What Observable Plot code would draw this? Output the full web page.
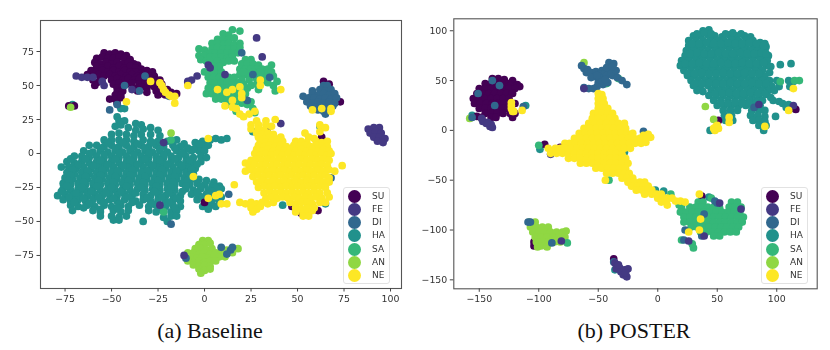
<!DOCTYPE html>
<html><head><meta charset="utf-8">
<script src="https://cdn.jsdelivr.net/npm/d3@7"></script>
<script src="https://cdn.jsdelivr.net/npm/@observablehq/plot@0.6"></script>
<style>
html,body{margin:0;padding:0;background:#fff;width:830px;height:350px;overflow:hidden}
#stage{position:relative;width:830px;height:350px}
.panel{position:absolute;top:0;filter:blur(.45px)}
.cap{position:absolute;top:318px;font:22px "Liberation Serif",serif;color:#111;text-align:center;white-space:nowrap;transform:translateX(-50%)}
.leg{position:absolute;top:187px;width:45px;height:95px;border:1px solid #e2e2e2;border-radius:3px;background:#fff;filter:blur(.35px);font:9px "DejaVu Sans",sans-serif;color:#333}
.leg div{position:absolute;left:4px;height:13px;line-height:13px;white-space:nowrap}
.leg i{position:absolute;left:0;top:0;width:13px;height:13px;border-radius:50%}
.leg span{position:absolute;left:24px;top:0}
</style></head><body><div id="stage"></div>
<script>
const labels = ["SU","FE","DI","HA","SA","AN","NE"];
const colors = ["#440154","#443983","#31688e","#21918c","#35b779","#90d743","#fde725"];
const ticksAX = [-75,-50,-25,0,25,50,75,100];
const ticksAY = [-75,-50,-25,0,25,50,75];
const ticksBX = [-150,-100,-50,0,50,100];
const ticksBY = [-150,-100,-50,0,50,100];

// Panel (a) Baseline
const aHA = [[-47,27],[-46,24],[-43,24],[-48,20],[-45,21],[-37,22],[-34,21],[-41,19],[-37,17],[-33,18],[-29,19],[-25,17],
[-50,14],[-46,15],[-42,14],[-38,13],[-34,14],[-29,14],[-24,13],[-54,10],[-50,10],[-46,10],[-42,10],[-38,9],[-33,10],[-29,9],[-25,9],[-20,9],[-15,10],[-11,7],[-5,8],[-1,9],[3,10],[6,11],[9,10],[12,11],
[-62,6],[-58,6],[-54,5],[-50,6],[-46,5],[-42,6],[-38,5],[-34,6],[-30,5],[-26,6],[-22,5],[-17,6],[-13,5],[-9,4],[-4,5],[-1,6],[2,6],
[-65,2],[-60,1],[-56,2],[-52,1],[-48,2],[-44,1],[-40,2],[-36,1],[-32,2],[-28,1],[-24,2],[-20,1],[-15,2],[-11,1],[-7,2],[-3,2],[0,2],
[-70,-2],[-66,-2],[-62,-3],[-58,-2],[-54,-3],[-50,-2],[-46,-3],[-42,-2],[-38,-3],[-34,-2],[-30,-3],[-26,-2],[-22,-3],[-18,-2],[-14,-3],[-10,-2],[-6,-3],[-2,-2],[1,-3],
[-74,-6],[-70,-7],[-66,-6],[-62,-7],[-58,-6],[-54,-7],[-50,-6],[-46,-7],[-42,-6],[-38,-7],[-34,-6],[-30,-7],[-26,-6],[-22,-7],[-18,-6],[-14,-7],[-10,-6],[-6,-7],[-2,-6],
[-77,-10],[-73,-10],[-69,-11],[-65,-10],[-61,-11],[-57,-10],[-53,-11],[-49,-10],[-45,-11],[-41,-10],[-37,-11],[-33,-10],[-29,-11],[-25,-10],[-21,-11],[-17,-10],[-13,-11],[-9,-10],[-5,-11],
[-74,-14],[-70,-15],[-66,-14],[-62,-15],[-58,-14],[-54,-15],[-50,-14],[-46,-15],[-42,-14],[-38,-15],[-34,-14],[-30,-15],[-26,-14],[-22,-15],[-18,-14],[-14,-15],[-10,-14],[-6,-15],
[-75,-18],[-71,-19],[-67,-18],[-63,-19],[-59,-18],[-55,-19],[-51,-18],[-47,-19],[-43,-18],[-39,-19],[-35,-18],[-31,-19],[-27,-18],[-23,-19],[-19,-18],[-15,-19],[-11,-18],[-7,-19],[-3,-19],[1,-20],[5,-21],
[-76,-22],[-72,-23],[-68,-22],[-64,-23],[-60,-22],[-56,-23],[-52,-22],[-48,-23],[-44,-22],[-40,-23],[-36,-22],[-32,-23],[-28,-22],[-24,-23],[-20,-22],[-16,-23],[-12,-22],[-8,-23],[-4,-22],[0,-23],[4,-24],[8,-24],
[-76,-26],[-72,-27],[-68,-26],[-64,-27],[-60,-26],[-56,-27],[-52,-26],[-48,-27],[-44,-26],[-40,-27],[-36,-26],[-32,-27],[-28,-26],[-24,-27],[-20,-26],[-16,-27],[-10,-26],[-6,-27],[-2,-26],[2,-27],[6,-27],[9,-26],
[-79,-31],[-75,-30],[-71,-31],[-67,-30],[-63,-31],[-59,-30],[-55,-31],[-51,-30],[-47,-31],[-43,-30],[-39,-31],[-33,-30],[-29,-31],[-25,-30],[-21,-31],[-17,-30],[-13,-31],[-7,-30],[-3,-31],[1,-30],[5,-31],[9,-32],
[-76,-34],[-72,-35],[-68,-34],[-64,-35],[-60,-34],[-56,-35],[-51,-34],[-47,-35],[-43,-34],[-37,-35],[-33,-34],[-29,-35],[-25,-34],[-21,-35],[-17,-34],[-13,-35],[-4,-34],[0,-35],[4,-35],[8,-35],
[-72,-38],[-68,-39],[-63,-38],[-59,-39],[-54,-38],[-50,-39],[-45,-38],[-41,-39],[-35,-38],[-30,-39],[-26,-38],[-21,-39],[-17,-38],[-13,-39],[-1,-39],[3,-38],[6,-39],
[-71,-42],[-60,-42],[-56,-43],[-49,-42],[-45,-43],[-41,-42],[-30,-42],[-26,-43],[-22,-42],[-18,-43],[-15,-42],
[-56,-46],[-50,-46],[-46,-47],[-42,-46],[-22,-47],[-18,-46],[-15,-46],[-49,-49],[-46,-49],[-33,-50],[-20,-50],[42,-38],[-43,33],[-45,33],[-71,36],[26,16],[62,20],[55,-43],[65,-37]];
const aHAFill = [[-52,8],[-44,8],[-36,7],[-28,8],[-3,7],[-56,4],[-48,4],[-40,3],[-32,4],[-24,3],[-16,4],[-6,3],[-62,0],[-54,-1],[-46,0],[-38,-1],[-30,0],[-22,-1],[-12,0],
[-72,-4],[-64,-4],[-56,-5],[-48,-4],[-40,-5],[-32,-4],[-24,-5],[-16,-4],[-8,-5],[-68,-8],[-60,-9],[-52,-8],[-44,-9],[-36,-8],[-28,-9],[-20,-8],[-12,-9],[-4,-8],
[-71,-12],[-63,-13],[-55,-12],[-47,-13],[-39,-12],[-31,-13],[-23,-12],[-15,-13],[-7,-12],[-72,-16],[-64,-17],[-56,-16],[-48,-17],[-40,-16],[-32,-17],[-24,-16],[-16,-17],[-8,-16],
[-73,-20],[-65,-21],[-57,-20],[-49,-21],[-41,-20],[-33,-21],[-25,-20],[-17,-21],[-9,-20],[-74,-24],[-66,-25],[-58,-24],[-50,-25],[-42,-24],[-34,-25],[-26,-24],[-18,-25],[-10,-24],[-2,-24],[6,-25],
[-77,-28],[-69,-29],[-61,-28],[-53,-29],[-45,-28],[-37,-29],[-27,-28],[-19,-29],[-12,-28],[-4,-29],[4,-28],[-73,-32],[-65,-33],[-57,-32],[-49,-33],[-41,-32],[-31,-33],[-23,-32],[-15,-33],[-1,-32],[7,-33],
[-70,-36],[-62,-37],[-54,-36],[-46,-37],[-39,-36],[-28,-37],[-19,-36],[-65,-40],[-56,-41],[-47,-40],[-24,-41],[-16,-40],[2,-41]];
const aSU = [[-54,74],[-51,73],[-48,74],[-45,73],[-42,72],[-58,70],[-55,71],[-52,70],[-49,70],[-46,71],[-43,70],[-40,69],
[-59,67],[-56,66],[-53,67],[-50,66],[-47,67],[-44,66],[-41,67],[-38,66],[-36,65],[-58,64],[-55,63],[-52,64],[-49,63],[-46,64],[-43,63],[-40,64],[-37,63],[-34,62],
[-61,61],[-58,60],[-55,61],[-52,60],[-49,61],[-46,60],[-43,61],[-40,60],[-37,60],[-34,59],[-31,61],[-28,60],
[-63,58],[-60,57],[-57,58],[-54,57],[-51,58],[-48,57],[-45,58],[-42,57],[-39,58],[-36,57],[-33,58],[-30,57],[-27,57],
[-60,54],[-56,54],[-50,54],[-47,55],[-44,54],[-41,55],[-38,54],[-35,55],[-32,54],[-29,55],[-26,54],[-24,54],
[-58,52],[-49,51],[-46,52],[-42,51],[-39,52],[-35,51],[-32,52],[-29,51],[-26,52],[-23,51],
[-47,48],[-44,49],[-38,48],[-34,49],[-31,48],[-27,49],[-23,48],[-20,47],[-47,45],[-44,46],[-36,46],[-31,45],[-26,46],[-22,44],[-18,45],
[-48,43],[-45,43],[-25,43],[-21,43],[-15,44],[-51,40],[-48,40],[-45,41],[-47,37],[-70,35],[-73,35],[63,12],[-9,52],[47,-39],[52,-44],[61,-42],[-59,50],[64,53],[67,51],[73,38],[0,-36]];
const aFE = [[-69,57],[-66,56],[-63,56],[-60,56],[-55,53],[-54,50],[-39,47],[-9,53],[-7,54],[-4,57],[28,85],[31,71],[2,65],[3,63],[11,58],[34,19],[41,22],[-22,8],[-24,-38],[-11,-75],
[88,18],[91,19],[94,19],[89,15],[92,16],[95,15],[91,12],[94,12],[97,11],[93,9],[96,8]];
const aDI = [[-51,32],[-47,36],[-35,46],[-43,50],[-32,57],[-19,42],[20,74],[26,58],[35,56],[23,39],[-18,-52],[-10,-77],[68,-18],[13,-30],[9,-69],[14,-71],[15,-69],[12,-74],
[64,50],[66,50],[58,46],[62,47],[65,46],[68,47],[58,44],[61,43],[64,44],[67,43],[70,44],[53,42],[56,41],[59,41],[62,40],[65,41],[68,40],[71,41],[55,38],[58,37],[61,38],[64,37],[67,38],[70,37],[57,35],[60,34],[63,35],[66,34],[69,35],[61,32],[64,31],[65,29]];
const aSA = [[-3,77],[0,76],[-3,72],[0,72],[-2,69],[1,68],[4,68],[15,91],[19,90],[10,88],[13,87],[7,84],[10,84],[13,84],[16,85],[4,81],[7,81],[10,80],[13,81],[16,80],[19,81],[4,77],[7,78],[10,77],[13,77],[16,77],[19,78],[3,74],[6,74],[9,74],[12,74],[15,74],[18,74],[3,71],[6,71],[9,71],[12,70],[15,71],[7,68],[10,67],[13,68],[16,68],
[22,69],[25,69],[20,66],[23,66],[26,66],[29,65],[36,65],[19,62],[22,62],[25,62],[28,62],[31,62],[34,62],[19,58],[22,58],[24,58],[28,58],[31,58],[34,59],[37,57],[20,54],[24,54],[32,54],[0,60],[3,60],[6,60],[9,60],[2,56],[5,56],[8,56],[10,55],[13,56],[16,56],[3,52],[6,52],[9,52],[12,52],[15,52],[18,52],[4,48],[7,48],[10,48],[13,48],[16,48],[19,48],[23,48],[1,44],[4,44],[7,44],[10,44],[13,44],[16,44],[22,44],[6,40],[9,40],[12,40],[15,40],[14,36],[16,36],[26,33],[27,30],[37,50],[38,46],[-18,10],[-22,-43],
[21,60],[26,60],[30,60],[33,56],[28,55],[25,50],[28,51],[34,52],[21,51],[19,45],[18,40],[20,37],[8,64],[5,64],[2,48],[12,36],[17,31],[23,36],[25,38],[29,47],[36,60],[39,53]];
const aAN = [[-1,-64],[2,-64],[-3,-67],[0,-67],[3,-66],[-5,-70],[-2,-70],[1,-71],[4,-70],[9,-70],[12,-71],[15,-70],[18,-70],[-9,-73],[-6,-73],[-3,-74],[0,-73],[3,-74],[6,-73],[9,-74],[12,-73],[15,-73],[-10,-76],[-7,-76],[-4,-77],[-1,-76],[2,-77],[5,-76],[8,-76],[11,-76],[-9,-79],[-6,-80],[-3,-79],[0,-80],[3,-79],[6,-79],[-6,-82],[-3,-83],[0,-82],[3,-83],[-3,-85],[0,-86],[3,-85],[-2,-88],[-72,34],[-18,15]];
const aNE = [[28,24],[33,24],[38,25],[25,21],[29,21],[33,21],[36,20],[25,18],[29,18],[32,17],[28,15],[31,14],[34,15],[37,14],[54,15],[62,21],[29,12],[32,11],[35,12],[38,11],[41,12],[56,12],[59,11],[62,16],[30,9],[33,8],[36,9],[39,8],[42,9],[49,9],[52,9],[55,8],[60,9],[63,8],[66,9],
[29,6],[32,5],[35,6],[38,5],[41,6],[44,5],[48,6],[51,5],[54,6],[57,5],[60,6],[63,5],[66,5],[28,3],[31,2],[34,3],[37,2],[40,3],[43,2],[46,3],[49,2],[52,3],[55,2],[58,3],[61,2],[64,3],[67,2],[27,0],[30,-1],[33,0],[36,-1],[39,0],[42,-1],[45,0],[48,-1],[51,0],[54,-1],[57,0],[60,-1],[63,0],[66,-1],[68,0],
[22,-7],[25,-5],[28,-4],[31,-5],[34,-4],[37,-5],[40,-4],[43,-5],[46,-4],[49,-5],[52,-4],[55,-5],[58,-4],[61,-5],[64,-4],[67,-5],[74,-9],[24,-9],[27,-8],[30,-9],[33,-8],[36,-9],[39,-8],[42,-9],[45,-8],[48,-9],[51,-8],[54,-9],[57,-8],[60,-9],[63,-8],[66,-9],
[22,-13],[25,-12],[28,-13],[31,-12],[34,-13],[37,-12],[40,-13],[43,-12],[46,-13],[49,-12],[52,-13],[55,-12],[58,-13],[61,-12],[64,-13],[67,-12],[70,-13],[26,-17],[29,-16],[32,-17],[35,-16],[38,-17],[41,-16],[44,-17],[47,-16],[50,-17],[53,-16],[56,-17],[59,-16],[62,-17],[65,-16],[67,-18],
[28,-21],[31,-20],[34,-21],[37,-20],[40,-21],[43,-20],[46,-21],[49,-20],[52,-21],[55,-20],[58,-21],[61,-20],[64,-21],[67,-21],[29,-25],[32,-24],[35,-25],[38,-24],[41,-25],[44,-24],[47,-25],[50,-24],[53,-25],[56,-24],[59,-25],[62,-24],[65,-25],[32,-29],[35,-28],[38,-29],[41,-28],[44,-29],[47,-28],[50,-29],[53,-28],[56,-29],[59,-28],[62,-29],[66,-29],[33,-33],[36,-32],[39,-33],[42,-32],[45,-33],[48,-32],[51,-33],[54,-32],[57,-33],[60,-32],[63,-33],[67,-32],
[19,-36],[22,-37],[25,-36],[28,-37],[31,-36],[34,-37],[37,-36],[46,-36],[49,-37],[52,-36],[55,-36],[58,-37],[62,-36],[65,-36],[25,-40],[28,-41],[30,-39],[49,-40],[52,-41],[55,-40],[59,-40],[26,-43],[49,-43],[53,-44],[56,-43],[58,-42],[53,-46],[56,-46],
[-29,53],[-24,52],[-23,50],[-22,47],[-21,45],[-19,43],[-18,42],[-16,42],[-42,38],[-16,37],[-9,50],[7,47],[12,45],[15,47],[19,49],[20,44],[20,41],[15,39],[11,35],[15,34],[17,33],[19,29],[21,27],[24,29],[27,31],[30,54],[30,50],[41,47],[58,32],[63,33],[68,31],[68,33],[2,11],[-6,-17],[2,-33],[6,-31],[8,-30],[16,-23],[9,-37],[12,-37],[65,19]];
const layersA = [["HA",aHA],["HA",aHAFill],["SU",aSU],["SA",aSA],["AN",aAN],["DI",aDI],["FE",aFE],["NE",aNE]];

// Panel (b) POSTER
const bHA = [[38,100],[43,101],[30,95],[36,95],[42,96],[48,95],[54,94],[60,96],[66,95],[73,95],[78,94],[26,90],[32,90],[38,90],[44,91],[50,90],[56,90],[62,91],[68,90],[74,90],[80,90],[86,88],[90,87],
[26,85],[32,85],[38,85],[44,85],[50,85],[56,85],[62,85],[68,85],[74,85],[80,85],[86,84],[91,84],[24,80],[30,80],[36,80],[42,80],[48,80],[54,80],[60,80],[66,80],[72,80],[78,80],[84,80],[90,80],
[23,75],[29,75],[35,75],[41,75],[47,75],[53,75],[59,75],[65,75],[71,75],[77,75],[83,75],[89,75],[93,75],[20,70],[26,70],[32,70],[38,70],[44,70],[50,70],[56,70],[62,70],[68,70],[74,70],[80,70],[86,70],[92,70],
[19,65],[25,65],[31,65],[37,65],[43,65],[49,65],[55,65],[61,65],[67,65],[73,65],[79,65],[85,65],[91,65],[95,64],[103,66],[112,67],[22,60],[28,60],[34,60],[40,60],[46,60],[52,60],[58,60],[64,60],[70,60],[76,60],[82,60],[88,60],[94,58],
[25,55],[31,55],[37,55],[43,55],[49,55],[55,55],[61,55],[67,55],[73,55],[79,55],[85,55],[90,54],[28,50],[34,50],[40,50],[46,50],[52,50],[58,50],[64,50],[70,50],[76,50],[82,50],[88,50],[94,50],[100,50],[110,50],[114,49],
[30,45],[36,45],[42,45],[48,45],[54,45],[60,45],[66,45],[72,45],[78,45],[84,45],[90,45],[96,44],[102,44],[111,44],[33,40],[38,39],[45,40],[51,40],[57,40],[63,40],[69,40],[75,40],[81,40],[87,40],[93,40],[98,40],
[43,35],[49,35],[55,35],[61,35],[67,35],[73,35],[79,35],[85,35],[91,36],[95,33],[47,30],[53,30],[59,30],[65,30],[71,30],[77,30],[83,30],[88,30],[97,30],[102,29],[50,25],[56,25],[62,25],[68,25],[74,25],[80,25],[86,25],[105,27],[110,26],
[55,20],[61,20],[67,20],[79,20],[85,20],[90,20],[108,23],[112,22],[56,15],[62,15],[78,15],[84,15],[90,14],[99,14],[57,10],[63,10],[80,10],[85,10],[90,9],[85,5],[91,5],[89,0],[44,0],
[-156,15],[-111,25],[-99,-19],[-28,-22],[-2,-60],[5,-61],[43,-67],[-36,-140]];
const bHAFill = [[33,97],[39,98],[45,97],[57,97],[63,98],[70,97],[29,87],[35,87],[41,88],[47,87],[53,87],[59,88],[65,87],[71,87],[77,88],[83,87],[89,85],
[27,77],[33,78],[39,77],[45,77],[51,78],[57,77],[63,77],[69,78],[75,77],[81,77],[87,78],[91,77],[23,67],[29,67],[35,68],[41,67],[47,67],[53,68],[59,67],[65,67],[71,68],[77,67],[83,67],[89,68],
[25,57],[31,57],[37,58],[43,57],[49,57],[55,58],[61,57],[67,57],[73,58],[79,57],[85,57],[31,47],[37,47],[43,48],[49,47],[55,47],[61,48],[67,47],[73,47],[79,48],[85,47],[91,47],[48,37],[54,37],[60,38],[66,37],[72,37],[78,38],[84,37],[90,37],[53,27],[59,27],[65,28],[71,27],[77,27],[83,28]];
const bSU = [[-139,52],[-134,52],[-129,51],[-122,50],[-145,47],[-140,47],[-135,47],[-130,47],[-125,47],[-118,46],[-124,45],[-120,44],[-116,44],[-150,42],[-145,42],[-140,42],[-135,42],[-130,42],[-125,42],[-120,42],
[-152,37],[-147,37],[-142,37],[-137,37],[-132,37],[-127,37],[-122,37],[-155,32],[-150,32],[-145,32],[-140,32],[-135,32],[-130,32],[-125,32],[-154,27],[-149,27],[-144,27],[-139,27],[-134,27],[-129,27],[-125,27],[-120,27],
[-150,22],[-145,22],[-140,22],[-135,22],[-130,22],[-126,22],[-145,17],[-140,17],[-135,17],[-130,17],[-124,17],[-120,17],[-140,13],[-136,13],[-122,13],[-152,14],[-148,13],[-104,-112],[-104,-116],[-97,-115],[-95,-14],[-82,-17],[51,10],[116,21],[37,-66],[-37,-129]];
const bFE = [[-147,9],[-143,8],[-140,6],[-139,3],[-141,4],[-144,7],[-148,12],[-90,-24],[-62,42],[85,26],[114,25],[-81,-111],[26,-111],[39,-106],[70,-79],[52,-73],
[-36,-133],[-34,-136],[-32,-138],[-35,-139],[-31,-142],[-28,-140],[-29,-145],[-26,-147],[-25,-139],[-27,-143],[-33,-135]];
const bDI = [[-64,65],[-62,62],[-59,61],[-60,58],[-56,58],[-52,59],[-47,60],[-48,56],[-53,54],[-49,52],[-45,54],[-50,48],[-46,46],[-51,44],[-47,50],[-44,58],[-42,62],[-40,66],[-37,67],[-41,68],[-43,55],[-38,55],[-34,53],[-30,50],[-26,46],[-62,43],[-58,42],[-54,42],[-42,48],[-39,58],[-35,60],[-43,63],[-38,64],[-56,53],[-51,55],[-44,51],
[-139,50],[-133,45],[-151,37],[-137,25],[-113,24],[-156,13],[81,23],[-109,-92],[-107,-92],[-89,-113],[-12,-1],[23,-100],[22,-110],[37,-106],[39,-84],[48,-71],[50,-73],[-37,-132]];
const bSA = [[34,-72],[38,-72],[62,-72],[67,-72],[20,-77],[27,-77],[32,-77],[37,-77],[42,-77],[47,-77],[52,-78],[60,-77],[65,-77],[70,-77],[19,-82],[24,-82],[29,-82],[34,-82],[39,-82],[44,-82],[49,-82],[54,-82],[59,-82],[64,-82],[69,-82],
[22,-87],[27,-87],[32,-87],[37,-87],[42,-87],[47,-87],[52,-87],[57,-87],[62,-87],[67,-87],[72,-87],[22,-92],[27,-92],[32,-92],[37,-92],[42,-92],[47,-92],[52,-92],[57,-92],[62,-92],[67,-92],[71,-92],
[28,-97],[33,-97],[38,-97],[43,-97],[48,-97],[53,-97],[58,-97],[63,-97],[68,-97],[36,-102],[41,-102],[46,-102],[51,-102],[56,-102],[61,-102],[66,-102],[47,-106],[52,-106],[30,-118],[29,-114],[20,-110],
[-100,-15],[-33,52],[-43,47],[-76,-113],[-41,-50],[103,49],[119,50],[115,50],[45,-68],[11,-64],[18,-75]];
const bAN = [[-108,-92],[-103,-92],[-107,-97],[-102,-97],[-97,-97],[-92,-97],[-105,-102],[-100,-102],[-95,-102],[-90,-102],[-85,-102],[-80,-102],[-77,-101],[-103,-107],[-98,-107],[-93,-107],[-88,-107],[-83,-107],[-78,-107],[-102,-112],[-97,-112],[-92,-112],[-87,-112],[-82,-112],[-101,-117],[-98,-116],[-93,-117],[-158,12],[-62,68],[40,24],[47,11]];
const bNE = [[-50,37],[-47,36],[-50,32],[-46,32],[-50,27],[-45,27],[-50,22],[-46,22],[-42,22],[-54,17],[-50,17],[-47,17],[-42,17],[-38,17],[-55,12],[-50,12],[-45,12],[-40,12],[-36,12],[-58,7],[-53,7],[-48,7],[-43,7],[-38,7],[-33,7],[-28,7],
[-62,2],[-57,2],[-52,2],[-47,2],[-42,2],[-37,2],[-32,2],[-27,2],[-66,-3],[-61,-3],[-56,-3],[-51,-3],[-46,-3],[-41,-3],[-36,-3],[-31,-3],[-26,-3],[-21,-3],[-12,-5],[-8,-4],[-70,-8],[-65,-8],[-60,-8],[-55,-8],[-50,-8],[-45,-8],[-40,-8],[-35,-8],[-30,-8],[-25,-8],[-20,-8],[-15,-8],[-10,-8],[-6,-7],
[-78,-13],[-74,-13],[-69,-13],[-64,-13],[-59,-13],[-54,-13],[-49,-13],[-44,-13],[-39,-13],[-34,-13],[-29,-13],[-24,-13],[-19,-13],[-14,-13],[-10,-12],[-92,-18],[-86,-18],[-82,-18],[-78,-18],[-73,-18],[-68,-18],[-63,-18],[-58,-18],[-53,-18],[-48,-18],[-43,-18],[-38,-18],[-33,-18],[-28,-18],[-23,-18],
[-90,-23],[-85,-23],[-80,-23],[-75,-23],[-70,-23],[-65,-23],[-60,-23],[-55,-23],[-50,-23],[-45,-23],[-40,-23],[-35,-23],[-30,-24],[-75,-28],[-70,-28],[-65,-28],[-60,-28],[-55,-28],[-50,-28],[-45,-28],[-40,-28],[-35,-28],[-30,-28],[-27,-28],[-65,-33],[-60,-33],[-55,-33],[-50,-33],[-45,-33],[-40,-33],[-35,-33],[-30,-33],[-25,-33],
[-52,-38],[-47,-38],[-42,-38],[-37,-38],[-32,-38],[-27,-38],[-43,-43],[-38,-43],[-33,-43],[-28,-43],[-24,-43],[-44,-50],[-30,-48],[-26,-48],[-21,-48],[-25,-52],[-20,-52],[-15,-52],[-11,-52],[-22,-56],[-17,-56],[-12,-56],[-8,-56],[-18,-60],[-13,-60],[-8,-60],[-5,-60],[-11,-64],[-5,-64],[-1,-64],[3,-64],[0,-68],[4,-68],[8,-68],[12,-68],[3,-72],[7,-72],[15,-71],[19,-71],[23,-72],[8,-75],
[-123,28],[-123,25],[-123,22],[-122,19],[-121,19],[-114,20],[114,42],[110,20],[60,13],[60,8],[47,2],[49,4],[51,2],[48,0],[50,5],[90,4],[35,-64],[35,-100],[36,-89],[26,-102]];
const layersB = [["HA",bHA],["HA",bHAFill],["SU",bSU],["AN",bAN],["SA",bSA],["DI",bDI],["FE",bFE],["NE",bNE]];

const toRows = layers => layers.flatMap(([c, pts]) => pts.map(([x, y]) => ({x, y, c})));

function panel({layers, xDomain, yDomain, xTicks, yTicks, left, margins}) {
  const svg = Plot.plot({
    width: 415, height: 312,
    marginLeft: margins[0], marginRight: margins[1], marginTop: margins[2], marginBottom: margins[3],
    style: {background: "transparent", fontFamily: "DejaVu Sans", color: "#333"},
    x: {domain: xDomain, label: null},
    y: {domain: yDomain, label: null},
    color: {domain: labels, range: colors},
    marks: [
      Plot.dot(toRows(layers), {x: "x", y: "y", r: 3.85, fill: "c"}),
      Plot.frame({stroke: "#555", strokeWidth: 1.1}),
      Plot.axisX({ticks: xTicks, tickSize: 3.5, tickPadding: 3, fontSize: 9.4, stroke: "#444", fill: "#333", label: null, tickFormat: d => String(d).replace("-", "\u2212")}),
      Plot.axisY({ticks: yTicks, tickSize: 3.5, tickPadding: 3, fontSize: 9.4, stroke: "#444", fill: "#333", label: null, tickFormat: d => String(d).replace("-", "\u2212")})
    ]
  });
  svg.setAttribute("class", "panel");
  svg.style.left = left + "px";
  svg.style.position = "absolute";
  return svg;
}
function legend(left) {
  const box = document.createElement("div");
  box.className = "leg"; box.style.left = left + "px";
  labels.forEach((l, i) => {
    const row = document.createElement("div");
    row.style.top = (1.5 + i * 13.33) + "px";
    const dot = document.createElement("i"); dot.style.background = colors[i];
    const t = document.createElement("span"); t.textContent = l;
    row.append(dot, t); box.append(row);
  });
  return box;
}
function caption(text, cx) {
  const d = document.createElement("div");
  d.className = "cap"; d.textContent = text; d.style.left = cx + "px";
  return d;
}
const stage = document.getElementById("stage");
stage.append(
  panel({layers: layersA, xDomain: [-88.2, 105.9], yDomain: [-99.3, 97.8], xTicks: ticksAX, yTicks: ticksAY, left: 0, margins: [40, 14, 20, 24]}),
  panel({layers: layersB, xDomain: [-171.4, 134], yDomain: [-159, 112], xTicks: ticksBX, yTicks: ticksBY, left: 415, margins: [38.3, 13.3, 18.3, 23.7]}),
  legend(343), legend(761),
  caption("(a) Baseline", 210), caption("(b) POSTER", 634)
);
</script></body></html>
